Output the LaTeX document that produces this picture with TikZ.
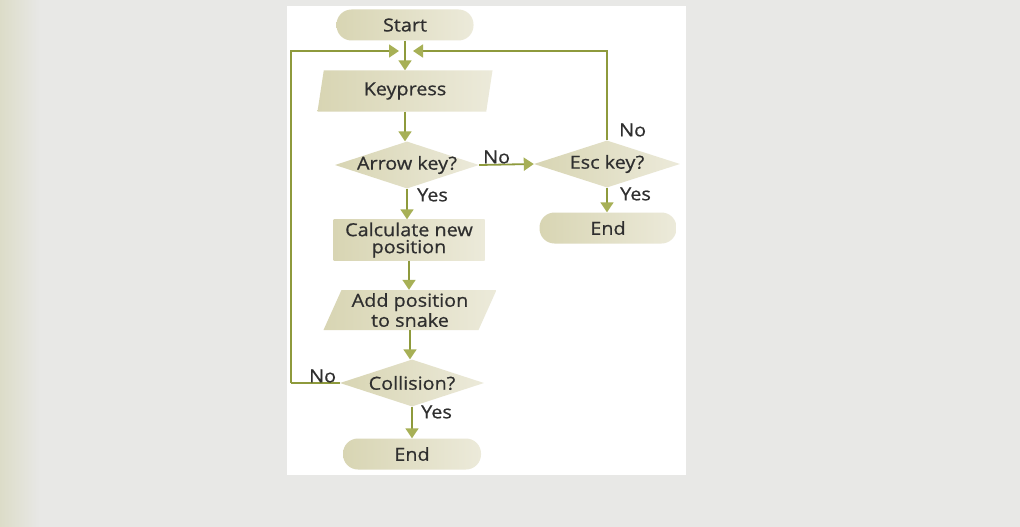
\documentclass[tikz,border=0pt]{standalone}
\usepackage{fontspec}
\setmainfont{Open Sans}[FakeBold=0.7,FakeStretch=1.1]
\usetikzlibrary{shapes.geometric,arrows.meta}
\definecolor{bgc}{HTML}{E8E8E6}
\definecolor{bgedge}{HTML}{DCDCC8}
\definecolor{linec}{HTML}{8E9A3C}
\definecolor{tipc}{HTML}{A7B056}
\definecolor{fillL}{HTML}{D8D5B3}
\definecolor{fillR}{HTML}{ECEADA}
\definecolor{txt}{HTML}{2F2F2F}
\tikzset{
  box/.style={left color=fillL, right color=fillR, draw=none, text=txt,
    font=\fontsize{18}{16}\selectfont, align=center, inner sep=0pt},
  pill/.style={box, rounded corners=15pt, minimum width=137pt, minimum height=31pt},
  procbox/.style={box, rectangle, minimum width=151pt, minimum height=41pt},
  iobox/.style={box, trapezium, trapezium left angle=#1, trapezium right angle=180-#1,
    trapezium stretches body=true},
  decbox/.style={box, diamond, minimum width=144pt, minimum height=47pt},
  flow/.style={draw=linec, line width=1.8pt, -{Triangle[width=13pt,length=10pt,fill=tipc,color=tipc]}},
  plain/.style={draw=linec, line width=1.8pt},
  lbl/.style={text=txt, font=\fontsize{18}{16}\selectfont, inner sep=0pt}
}
\newcommand{\zb}[1]{\makebox[0pt]{#1}}
\begin{document}
\begin{tikzpicture}[x=1pt,y=-1pt]
\useasboundingbox (0,0) rectangle (1020,527);
\fill[bgc] (0,0) rectangle (1020,527);
\shade[left color=bgedge, right color=bgc] (0,0) rectangle (40,527);
\fill[white] (287,6) rectangle (686,475);

\node[pill] (start) at (405,25) {Start};
\node[iobox=70, minimum width=175pt, minimum height=41pt] (kp) at (405,91) {\zb{Keypress}};
\node[decbox] (ak) at (407,165) {\zb{Arrow key?}};
\node[decbox, minimum width=146pt] (esc) at (607,164) {\zb{Esc key?}};
\node[pill] (end1) at (608,228) {End};
\node[procbox] (calc) at (409,240) {Calculate new\\[1pt]position};
\node[iobox=62, minimum width=173pt, minimum height=40pt] (add) at (410,310) {\zb{Add position}\\[1pt]\zb{to snake}};
\node[decbox] (col) at (412,383) {\zb{Collision?}};
\node[pill, minimum width=138pt] (end2) at (412,454) {End};

\coordinate (jl) at (399,51);
\coordinate (jr) at (413,51);
\coordinate (cl) at (291,383);

\draw[flow] (start.south) -- (start.south |- kp.north);
\draw[flow] (kp.south) -- (kp.south |- ak.north);
\draw[flow] (ak.south) -- (ak.south |- calc.north);
\draw[flow] (calc.south) -- (calc.south |- add.north);
\draw[flow] (add.south) -- (add.south |- col.north);
\draw[flow] (col.south) -- (col.south |- end2.north);
\draw[flow] (ak.east) -- (esc.west);
\draw[flow] (esc.south) -- (esc.south |- end1.north);
\draw[flow] (esc.north) |- (jr);
\draw[plain] (col.west) -- (cl);
\draw[flow] (cl) |- (jl);

\node[lbl, anchor=west] (l1) at (483,157) {No};
\node[lbl, anchor=west] (l2) at (619,130) {No};
\node[lbl, anchor=west] (l3) at (620,194) {Yes};
\node[lbl, anchor=west] (l4) at (417,195) {Yes};
\node[lbl, anchor=west] (l5) at (309,376) {No};
\node[lbl, anchor=west] (l6) at (421,412) {Yes};
\end{tikzpicture}
\end{document}
